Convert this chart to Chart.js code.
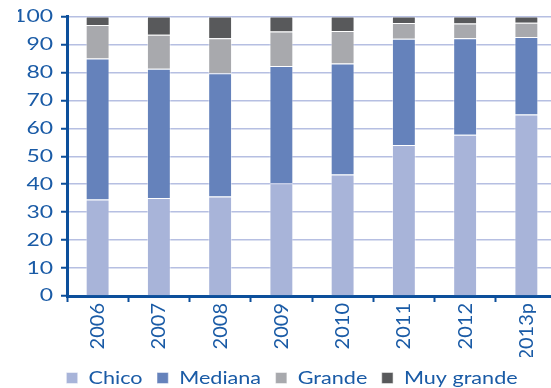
<!DOCTYPE html>
<html>
<head>
<meta charset="utf-8">
<script src="https://cdn.jsdelivr.net/npm/chart.js@4"></script>
<style>
  html, body { margin: 0; padding: 0; background: #ffffff; overflow: hidden; }
  #wrap { width: 557px; height: 388px; }
</style>
</head>
<body>
<div id="wrap"><canvas id="c" width="557" height="388"></canvas></div>
<script>
// Share of firms by size, per year (percent)
const years = ['2006', '2007', '2008', '2009', '2010', '2011', '2012', '2013p'];
const chico = [34.5, 35.1, 35.6, 40.3, 43.5, 54.0, 57.7, 64.9];
const mediana = [50.5, 46.2, 44.1, 42.0, 39.7, 38.0, 34.5, 27.8];
const grande = [12.0, 12.2, 12.5, 12.3, 11.6, 5.7, 5.3, 5.1];
const muyGrande = [3.0, 6.5, 7.8, 5.4, 5.2, 2.3, 2.5, 2.2];
const seriesNames = ['Chico', 'Mediana', 'Grande', 'Muy grande'];
const yTicks = [0, 10, 20, 30, 40, 50, 60, 70, 80, 90, 100];

const TEXT = '#1a5ba6';
const AXIS = '#0c4f9b';
const GRID = '#b6bfe2';
const COLORS = ['#a8b4d9', '#6582bb', '#a8a9ad', '#58595b'];
const Y_STRETCH = 1.35;
const LEGEND_STRETCH = 1.2;

// Wide lettering for the value axis and the legend
const wideText = {
  id: 'wideText',
  afterLayout(chart) {
    const y = chart.scales.y;
    if (y && !y._wide) {
      const orig = y.drawLabels;
      y.drawLabels = function (area) {
        const ctx = this.ctx;
        const ax = this.right - this.options.grid.tickLength - this.options.ticks.padding;
        ctx.save();
        ctx.translate(ax, 0);
        ctx.scale(Y_STRETCH, 1);
        ctx.translate(-ax, 0);
        orig.call(this, area);
        ctx.restore();
      };
      y._wide = true;
    }
    const lg = chart.legend;
    if (lg && !lg._wide) {
      const orig = lg.draw;
      lg.draw = function () {
        const ctx = this.ctx;
        const cx = (this.left + this.right) / 2;
        ctx.save();
        ctx.translate(cx, 0);
        ctx.scale(LEGEND_STRETCH, 1);
        ctx.translate(-cx, 0);
        orig.apply(this, arguments);
        ctx.restore();
      };
      lg._wide = true;
    }
  }
};

const values = [chico, mediana, grande, muyGrande];

new Chart(document.getElementById('c'), {
  type: 'bar',
  data: {
    labels: years,
    datasets: seriesNames.map((name, i) => ({
      label: name,
      data: values[i],
      backgroundColor: COLORS[i],
      borderColor: 'rgba(255,255,255,0.45)',
      borderWidth: 1,
      categoryPercentage: 1,
      barPercentage: 0.39
    }))
  },
  options: {
    responsive: false,
    animation: false,
    devicePixelRatio: 1,
    layout: { padding: { left: 27, right: 0, top: 0, bottom: -9 } },
    plugins: {
      tooltip: { enabled: false },
      legend: {
        position: 'bottom',
        labels: {
          color: TEXT,
          font: { family: 'Lato', size: 18 },
          boxWidth: 9.5,
          boxHeight: 11,
          padding: 12
        }
      }
    },
    scales: {
      x: {
        stacked: true,
        z: 1,
        afterFit(scale) { scale.height = 61; },
        border: { display: true, color: AXIS, width: 3 },
        grid: {
          drawOnChartArea: false,
          drawTicks: true,
          tickLength: 6,
          tickColor: AXIS,
          tickWidth: 2,
          offset: true
        },
        ticks: {
          color: TEXT,
          font: { family: 'Lato', size: 20 },
          minRotation: 90,
          maxRotation: 90,
          padding: 1
        }
      },
      y: {
        stacked: true,
        min: 0,
        max: 100,
        afterFit(scale) { scale.width = 40; },
        afterBuildTicks(scale) { scale.ticks = yTicks.map(v => ({ value: v })); },
        border: { display: true, color: AXIS, width: 3 },
        grid: {
          color: GRID,
          lineWidth: 1.5,
          drawTicks: true,
          tickLength: 6,
          tickColor: AXIS,
          tickWidth: 2
        },
        ticks: {
          color: TEXT,
          font: { family: 'Lato', size: 17, lineHeight: 1 },
          padding: 8
        }
      }
    }
  },
  plugins: [wideText]
});
</script>
</body>
</html>
